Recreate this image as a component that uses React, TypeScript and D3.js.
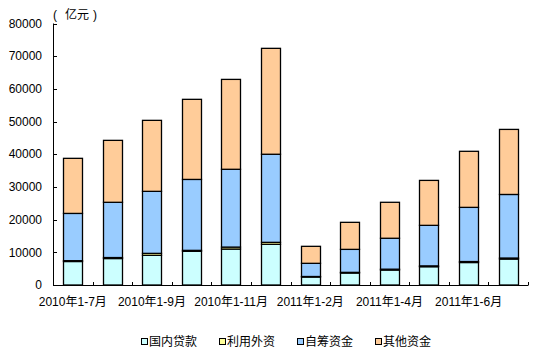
import React from "react";
import * as d3 from "d3";

const categories = [
  "2010年1-7月", "2010年1-8月", "2010年1-9月", "2010年1-10月", "2010年1-11月", "2010年1-12月",
  "2011年1-2月", "2011年1-3月", "2011年1-4月", "2011年1-5月", "2011年1-6月", "2011年1-7月",
];
const domesticLoans = [7190, 8100, 9080, 10300, 11000, 12450, 2450, 3670, 4590, 5600, 6880, 7950];
const foreignCapital = [250, 300, 600, 300, 600, 600, 150, 200, 250, 250, 300, 300];
const selfRaised = [14460, 16900, 18970, 21700, 23800, 26950, 4030, 7030, 9460, 12400, 16570, 19450];
const otherFunds = [16850, 18950, 21720, 24500, 27500, 32400, 5200, 8270, 11000, 13750, 17150, 19900];
const seriesNames = ["国内贷款", "利用外资", "自筹资金", "其他资金"];
const seriesColors = ["#CCFFFF", "#FFFF99", "#99CCFF", "#FFCC99"];
const yTicks = [0, 10000, 20000, 30000, 40000, 50000, 60000, 70000, 80000];
const shownLabelIdx = [0, 2, 4, 6, 8, 10];

const W = 545, H = 358;
const left = 53, right = 528, top = 23.5, bottom = 285;
const FONT = "'Liberation Sans', Arial, 'Noto Sans CJK SC', sans-serif";

export default function App() {
  const x = d3.scaleBand<string>().domain(categories).range([left, right]).paddingInner(0).paddingOuter(0);
  const y = d3.scaleLinear().domain([0, 80000]).range([bottom, top]);
  const rows = categories.map((c, i) => ({
    cat: c,
    s0: domesticLoans[i], s1: foreignCapital[i], s2: selfRaised[i], s3: otherFunds[i],
  }));
  const stack = d3.stack<any>().keys(["s0", "s1", "s2", "s3"]);
  const layers = stack(rows);
  const bw = x.bandwidth() * 0.49;

  const legendX = [141, 219, 297, 375];

  return (
    <svg width={W} height={H} style={{ position: "absolute", left: 0, top: 0, background: "#fff" }}>
      <g>
        {layers.map((layer, li) =>
          layer.map((d, i) => {
            const cx = (x(categories[i]) as number) + x.bandwidth() / 2;
            const y0 = y(d[0]);
            const y1 = y(d[1]);
            return (
              <rect key={li + "-" + i}
                x={Math.round(cx - bw / 2) + 0.5}
                y={y1}
                width={Math.round(bw)}
                height={Math.max(0, y0 - y1)}
                fill={seriesColors[li]}
                stroke="#000" strokeWidth={1.3} />
            );
          })
        )}
      </g>
      {/* y axis */}
      <line x1={left + 0.5} x2={left + 0.5} y1={top} y2={bottom} stroke="#000" strokeWidth={1} />
      {yTicks.map((t) => (
        <g key={t}>
          <line x1={left} x2={left + 4} y1={Math.round(y(t)) + 0.5} y2={Math.round(y(t)) + 0.5} stroke="#000" />
          <text x={42} y={y(t)} dy="0.35em" textAnchor="end" fontSize={12} fontFamily={FONT} fill="#000">{t}</text>
        </g>
      ))}
      {/* x axis */}
      <line x1={left} x2={right + 0.5} y1={bottom + 0.5} y2={bottom + 0.5} stroke="#000" />
      {categories.map((c, i) => {
        const bx = (x(c) as number) + x.bandwidth();
        return <line key={c} x1={Math.round(bx) + 0.5} x2={Math.round(bx) + 0.5} y1={bottom} y2={bottom - 3} stroke="#000" />;
      })}
      {shownLabelIdx.map((i) => (
        <text key={i} x={(x(categories[i]) as number) + x.bandwidth() / 2} y={302} dy="0.35em"
          textAnchor="middle" fontSize={12} fontFamily={FONT} fill="#000">{categories[i]}</text>
      ))}
      <text y={15} dy="0.35em" fontSize={12} fontFamily={FONT} fill="#000">
        <tspan x={53}>(</tspan>
        <tspan x={65}>亿元</tspan>
        <tspan x={93}>)</tspan>
      </text>
      {seriesNames.map((n, i) => (
        <g key={n}>
          <rect x={legendX[i] + 0.5} y={338.5} width={6} height={6} fill={seriesColors[i]} stroke="#000" />
          <text x={legendX[i] + 8} y={342} dy="0.35em" fontSize={12} fontFamily={FONT} fill="#000">{n}</text>
        </g>
      ))}
    </svg>
  );
}
